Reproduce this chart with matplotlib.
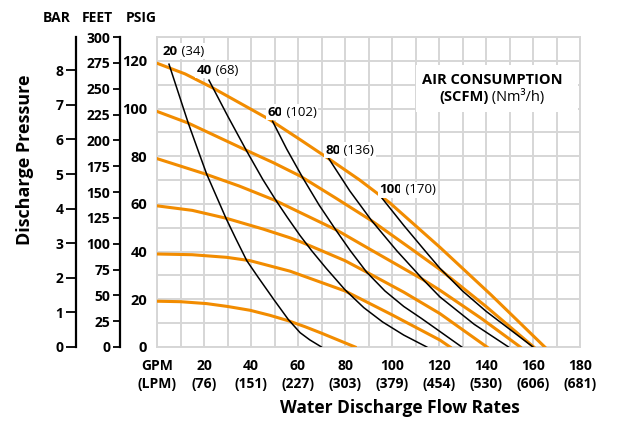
import matplotlib
matplotlib.use("Agg")
import matplotlib.pyplot as plt
from matplotlib.patches import Rectangle

plt.rcParams['font.family'] = ['Open Sans', 'DejaVu Sans']

ORANGE = '#f28c00'
GRID = '#d6d6d6'

# pressure curves (orange), x = GPM, y = PSIG
o120_x = [0, 12, 24, 48, 61, 73.6, 86, 99, 120.4, 142, 165]
o120_y = [119, 114.5, 108.5, 95.3, 86.9, 78.6, 70.2, 60.5, 41.8, 22, 0]
o100_x = [0, 13.3, 25, 38.2, 49.5, 60.9, 76, 91.4, 108.4, 120.4, 140, 160.3]
o100_y = [98.8, 93.9, 88.5, 82.4, 77.3, 71.7, 62.5, 52.9, 41, 32.5, 17, 0]
o80_x = [0, 20.4, 35, 50.2, 60.9, 76.5, 91.3, 113.3, 120.4, 138, 154.6]
o80_y = [79, 72.6, 67.5, 61.5, 56.4, 49.0, 40.6, 28.2, 23.8, 12, 0]
o60_x = [0, 15, 29.4, 45, 56.6, 60.9, 70, 80, 89.2, 105, 120.4, 140.4]
o60_y = [59.2, 57.3, 54, 49.5, 45.8, 44.2, 40.4, 36.2, 31.4, 23, 14, 0]
o40_x = [0, 15, 29.7, 39.6, 56.6, 80, 100, 120.4, 124.7]
o40_y = [39, 38.7, 37.6, 36.2, 31.8, 23.5, 13.5, 2.9, 0]
o20_x = [0, 10, 21.1, 30, 39.6, 48, 55.9, 63, 70, 84.3]
o20_y = [19.2, 19, 18.2, 17, 15.4, 13.3, 11, 8.5, 5.8, 0]

# air consumption curves (black)
b20_x = [5.1, 13.3, 17.6, 21.1, 29.4, 33.5, 38.2, 43, 50, 55.9, 60.9, 65, 70]
b20_y = [118.6, 93.9, 82.1, 72.6, 53.9, 45.5, 36.2, 29.3, 19.5, 11.5, 6, 3, 0]
b40_x = [22.1, 30, 38.2, 45, 50.6, 55.5, 60.9, 65.8, 72, 80, 88, 96, 105, 114.8]
b40_y = [111.9, 97, 82.1, 70.3, 61.5, 54.3, 46.7, 40.4, 33, 24, 16.5, 10.5, 5, 0]
b60_x = [49.2, 55.2, 62.3, 69, 76.5, 82.1, 89.2, 97, 105, 112.5, 120.4, 129.7]
b60_y = [94.6, 83, 70.5, 59.5, 48.5, 40.6, 31.4, 23.5, 17, 12, 6.5, 0]
b80_x = [72.9, 82, 91.4, 102, 113.3, 120.4, 135, 149.6]
b80_y = [79.3, 65.5, 52.9, 40.4, 28.2, 21, 9.5, 0]
b100_x = [95.6, 105, 114, 120.4, 130, 140, 160]
b100_y = [62.6, 51, 40.4, 33, 23.5, 15, 0]

air_scfm = ['20', '40', '60', '80', '100']
air_nm3h = ['(34)', '(68)', '(102)', '(136)', '(170)']

gpm_ticks = [0, 20, 40, 60, 80, 100, 120, 140, 160, 180]
gpm_labels = ['GPM', '20', '40', '60', '80', '100', '120', '140', '160', '180']
lpm_labels = ['(LPM)', '(76)', '(151)', '(227)', '(303)', '(379)', '(454)', '(530)', '(606)', '(681)']
psig_ticks = [0, 20, 40, 60, 80, 100, 120]
feet_ticks = list(range(0, 301, 25))
bar_ticks = list(range(0, 9))

fig = plt.figure(figsize=(6.17, 4.22), dpi=100)
ax = fig.add_axes([157/617, 1-347/422, 423/617, 310/422])
ax.set_xlim(0, 180)
ax.set_ylim(0, 130)

for s in ax.spines.values():
    s.set_color(GRID)
    s.set_linewidth(1.4)

ax.set_xticks(gpm_ticks)
ax.set_xticks(range(10, 181, 20), minor=True)
ax.set_xticklabels([g + '\n' + l for g, l in zip(gpm_labels, lpm_labels)],
                   fontsize=10, fontweight='bold', linespacing=1.35)
ax.tick_params(axis='x', which='both', length=0, pad=9)
ax.set_yticks(psig_ticks)
ax.set_yticks(range(10, 131, 20), minor=True)
ax.set_yticklabels([str(v) for v in psig_ticks], fontsize=10.5, fontweight='bold')
ax.tick_params(axis='y', which='both', length=0, pad=7)
ax.grid(True, which='both', color=GRID, linewidth=1.4)
ax.set_axisbelow(True)

oranges = [(o120_x, o120_y), (o100_x, o100_y), (o80_x, o80_y),
           (o60_x, o60_y), (o40_x, o40_y), (o20_x, o20_y)]
for xs, ys in oranges:
    ax.plot(xs, ys, color=ORANGE, linewidth=2.2, solid_joinstyle='round', zorder=3)

blacks = [(b20_x, b20_y), (b40_x, b40_y), (b60_x, b60_y), (b80_x, b80_y), (b100_x, b100_y)]
for xs, ys in blacks:
    ax.plot(xs, ys, color='black', linewidth=1.1, solid_joinstyle='round', zorder=4)

# curve labels
label_pos = [(2.5, 124), (17, 116), (47, 98.5), (71.5, 82.5), (94.5, 66)]
for (lx, ly), s, n in zip(label_pos, air_scfm, air_nm3h):
    t = ax.text(lx, ly, s, fontsize=9.5, fontweight='bold', ha='left', va='center', zorder=5,
                bbox=dict(facecolor='white', edgecolor='none', pad=1))
    ax.annotate(' ' + n, xy=(1, 0.5), xycoords=t, fontsize=9.5, va='center', ha='left',
                zorder=5, bbox=dict(facecolor='white', edgecolor='none', pad=1))

# air consumption legend box
ax.add_patch(Rectangle((110, 98.75), 69, 19.5, facecolor='white', edgecolor='none', zorder=2))
ax.text(142.5, 112, 'AIR CONSUMPTION', fontsize=10.5, fontweight='bold',
        ha='center', va='center', zorder=5)
t2 = ax.text(141, 105, '(SCFM)', fontsize=10.5, fontweight='bold', ha='right', va='center', zorder=5)
ax.annotate(' (Nm\u00b3/h)', xy=(1, 0.5), xycoords=t2, fontsize=10.5, ha='left', va='center', zorder=5)

# FEET scale
psi_per_ft = 0.4333
feet = ax.secondary_yaxis(-0.0875, functions=(lambda p: p / psi_per_ft, lambda f: f * psi_per_ft))
feet.set_yticks(feet_ticks)
feet.set_yticklabels([str(v) for v in feet_ticks], fontsize=10, fontweight='bold')
feet.tick_params(length=5, width=1.3, pad=2)
feet.spines['left'].set_linewidth(1.6)

# BAR scale
psi_per_bar = 14.5038
bar = ax.secondary_yaxis(-0.1915, functions=(lambda p: p / psi_per_bar, lambda b: b * psi_per_bar))
bar.set_yticks(bar_ticks)
bar.set_yticklabels([str(v) for v in bar_ticks], fontsize=10, fontweight='bold')
bar.tick_params(length=7, width=1.3, pad=2)
bar.spines['left'].set_linewidth(1.6)

fig.text(57/617, 1-18/422, 'BAR', fontsize=10, fontweight='bold', ha='center', va='center')
fig.text(97/617, 1-18/422, 'FEET', fontsize=10, fontweight='bold', ha='center', va='center')
fig.text(141/617, 1-18/422, 'PSIG', fontsize=10, fontweight='bold', ha='center', va='center')
fig.text(25/617, 1-160/422, 'Discharge Pressure', fontsize=13, fontweight='bold',
         rotation=90, ha='center', va='center')
fig.text(400/617, 1-408/422, 'Water Discharge Flow Rates', fontsize=12.5, fontweight='bold',
         ha='center', va='center')

fig.savefig('out.png', dpi=100)
